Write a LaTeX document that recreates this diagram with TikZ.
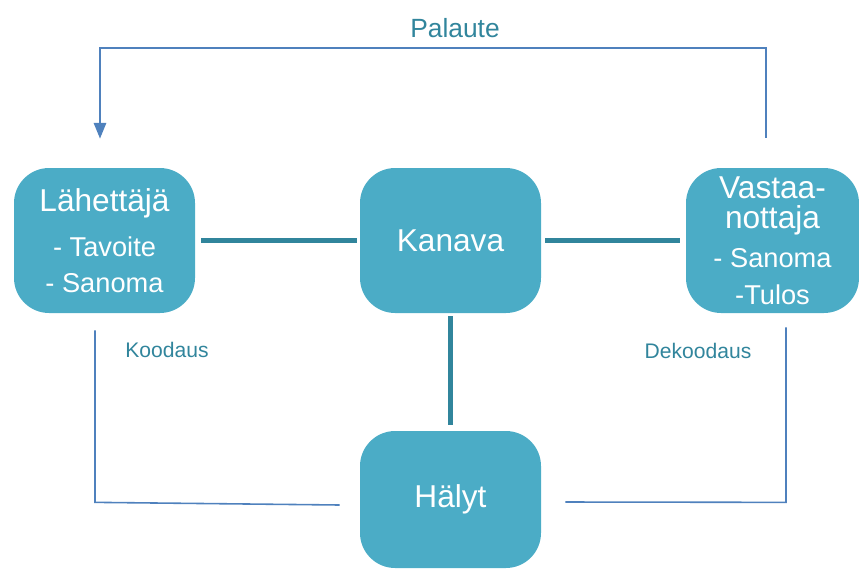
\documentclass[tikz,border=0pt]{standalone}
\usepackage{fontspec}
\setmainfont{Liberation Sans}
\usetikzlibrary{arrows.meta}
\definecolor{boxfill}{HTML}{4BACC6}
\definecolor{tealline}{HTML}{31859C}
\definecolor{fbblue}{HTML}{4F81BD}
\tikzset{
  roundbox/.style={fill=boxfill, rounded corners=20, text=white, align=center,
    minimum width=181*0.02cm, minimum height=145*0.02cm, inner sep=0pt},
  channel/.style={draw=tealline, line width=2.4pt},
  feedback/.style={draw=fbblue, line width=1.2pt},
  codeline/.style={draw=fbblue, line width=0.9pt},
  lbl/.style={text=tealline}
}
\begin{document}
\begin{tikzpicture}[x=0.02cm, y=-0.02cm]
        \useasboundingbox (0,0) rectangle (859,569);
        \node[roundbox] (lah) at (104.5,240.5) {\fontsize{18}{20}\selectfont Lähettäjä\\[9.5pt]
          \fontsize{15.5}{18}\selectfont - Tavoite\\[8.7pt] \fontsize{15.5}{18}\selectfont - Sanoma};
        \node[roundbox] (kan) at (450.5,240.5) {\fontsize{18}{20}\selectfont Kanava};
        \node[roundbox, minimum width=173*0.02cm] (vas) at (772.5,240.5) {\fontsize{18}{18}\selectfont Vastaa-\\[2.8pt]
          \fontsize{18}{18}\selectfont nottaja\\[6.8pt] \fontsize{15.5}{18}\selectfont - Sanoma\\[8.7pt]
          \fontsize{15.5}{18}\selectfont -Tulos};
        \node[roundbox, minimum height=137*0.02cm] (haly) at (450.5,499.5) {\fontsize{18}{20}\selectfont Hälyt};
        \draw[channel, shorten <=6*0.02cm, shorten >=3*0.02cm] (lah) -- (kan);
        \draw[channel, shorten <=4*0.02cm, shorten >=6*0.02cm] (kan) -- (vas);
        \draw[channel, shorten <=3*0.02cm, shorten >=6*0.02cm] (kan) -- (haly);
        \draw[feedback, -{Triangle[length=9pt,width=7pt]}] ([shift={(-6.5,-30)}]vas.north) -- ++(0,-90)
          -| ([shift={(-4.5,-29)}]lah.north);
        \node[lbl, font=\fontsize{15}{18}\selectfont] (pal) at (455,28) {Palaute};
        \draw[codeline] ([shift={(-9.5,17)}]lah.south) -- ++(0,172) -- ([shift={(-20,5.5)}]haly.west);
        \draw[codeline] ([shift={(13.5,14)}]vas.south) -- ++(0,175) -- ([shift={(24,2.5)}]haly.east);
        \node[lbl, font=\fontsize{12}{14}\selectfont] (koo) at (167,350) {Koodaus};
        \node[lbl, font=\fontsize{12}{14}\selectfont] (dek) at (698,351) {Dekoodaus};
\end{tikzpicture}
\end{document}
